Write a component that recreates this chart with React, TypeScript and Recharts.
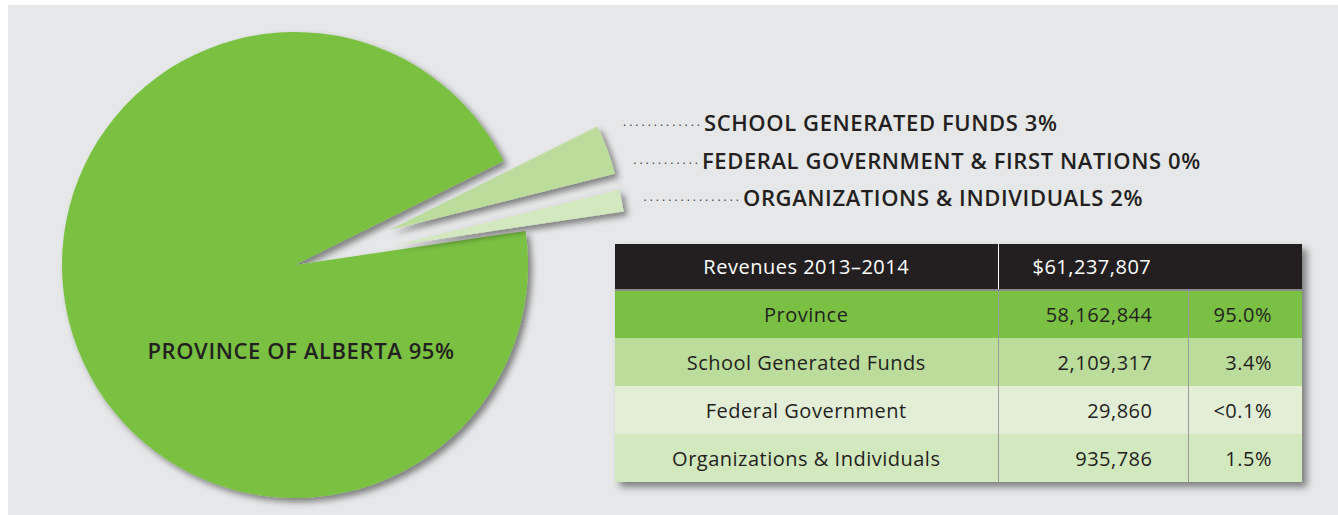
import React from 'react';
import { PieChart, Pie, Cell, Sector } from 'recharts';

const categories = ['Province', 'School Generated Funds', 'Federal Government', 'Organizations & Individuals'];
const sliceLabels = ['PROVINCE OF ALBERTA', 'SCHOOL GENERATED FUNDS', 'FEDERAL GOVERNMENT & FIRST NATIONS', 'ORGANIZATIONS & INDIVIDUALS'];
const revenues = [58162844, 2109317, 29860, 935786];
const tableTitle = 'Revenues 2013\u20132014';

const sliceColors = ['#7ac143', '#bbdc9b', '#e2efd6', '#d2e8be'];
const rowColors = ['#7ac143', '#bbdc9b', '#e2efd6', '#d2e8be'];

const total = revenues.reduce((a, b) => a + b, 0);
const data = categories.map((name, i) => ({ name, value: revenues[i] }));

const FONT = '"Open Sans", Lato, sans-serif';
const TEXT = '#231f20';
const EXPLODE = 100;

const fmt = (v: number) => v.toLocaleString('en-US');
const pctTable = (v: number) => {
  const p = (v / total) * 100;
  return p < 0.1 ? '<0.1%' : p.toFixed(1) + '%';
};
const pctRound = (v: number) => Math.round((v / total) * 100) + '%';

const renderSliceExtras = (props: any) => {
  const { index, cx, cy, innerRadius, outerRadius, startAngle, endAngle } = props;
  if (index === 0) {
    return (
      <text
        x={cx + 6}
        y={cy + 94}
        textAnchor="middle"
        fontFamily={FONT}
        fontWeight={600}
        fontSize={22}
        letterSpacing={0.6}
        fill={TEXT}
      >
        {sliceLabels[0] + ' ' + pctRound(revenues[0])}
      </text>
    );
  }
  const mid = (startAngle + endAngle) / 2;
  const rad = (-mid * Math.PI) / 180;
  return (
    <Sector
      cx={cx + EXPLODE * Math.cos(rad)}
      cy={cy + EXPLODE * Math.sin(rad)}
      innerRadius={innerRadius}
      outerRadius={outerRadius}
      startAngle={startAngle}
      endAngle={endAngle}
      fill={sliceColors[index]}
      stroke="none"
      filter="url(#pieShadow)"
    />
  );
};

const labelRows = [
  { idx: 1, dots: 13, dotsLeft: 621, textLeft: 704, top: 109 },
  { idx: 2, dots: 11, dotsLeft: 633, textLeft: 702, top: 147 },
  { idx: 3, dots: 16, dotsLeft: 642, textLeft: 743, top: 184 },
];

export default function App() {
  const cellBase: React.CSSProperties = {
    fontFamily: FONT,
    fontSize: 20,
    letterSpacing: 0.5,
    color: TEXT,
    padding: 0,
    verticalAlign: 'middle',
  };
  return (
    <div style={{ position: 'absolute', left: 0, top: 0, width: 1338, height: 515, background: '#ffffff', overflow: 'hidden' }}>
      <div style={{ position: 'absolute', left: 8, top: 5, right: 0, bottom: 0, background: '#e6e7e8' }} />
      <div style={{ position: 'absolute', left: 0, top: 0 }}>
        <PieChart width={1338} height={515}>
          <defs>
            <filter id="pieShadow" x="-20%" y="-20%" width="140%" height="140%">
              <feDropShadow dx="4" dy="4" stdDeviation="3" floodColor="#000" floodOpacity="0.45" />
            </filter>
          </defs>
          <Pie
            data={data}
            dataKey="value"
            nameKey="name"
            cx={290}
            cy={260}
            outerRadius={233}
            startAngle={8.4}
            endAngle={8.4 - 360}
            stroke="none"
            isAnimationActive={false}
            label={renderSliceExtras}
            labelLine={false}
          >
            {data.map((d, i) => (
              <Cell
                key={d.name}
                fill={i === 0 ? sliceColors[0] : 'none'}
                filter={i === 0 ? 'url(#pieShadow)' : undefined}
              />
            ))}
          </Pie>
        </PieChart>
      </div>

      {labelRows.map((r) => (
        <React.Fragment key={r.idx}>
          <div
            style={{
              position: 'absolute',
              left: r.dotsLeft,
              top: r.top,
              width: r.textLeft - r.dotsLeft - 1,
              textAlign: 'right',
              whiteSpace: 'nowrap',
              fontFamily: FONT,
              fontSize: 12,
              letterSpacing: 3,
              color: '#3a3a3a',
              lineHeight: '26px',
            }}
          >
            {'.'.repeat(r.dots)}
          </div>
          <div
            style={{
              position: 'absolute',
              left: r.textLeft,
              top: r.top,
              whiteSpace: 'nowrap',
              fontFamily: FONT,
              fontSize: 22,
              letterSpacing: 0.6,
              fontWeight: 600,
              color: TEXT,
              lineHeight: '26px',
            }}
          >
            {sliceLabels[r.idx] + ' ' + pctRound(revenues[r.idx])}
          </div>
        </React.Fragment>
      ))}

      <table
        style={{
          position: 'absolute',
          left: 615,
          top: 244,
          width: 687,
          borderCollapse: 'collapse',
          tableLayout: 'fixed',
          boxShadow: '5px 5px 7px rgba(0,0,0,0.45)',
        }}
      >
        <colgroup>
          <col style={{ width: 383 }} />
          <col style={{ width: 190 }} />
          <col style={{ width: 114 }} />
        </colgroup>
        <thead>
          <tr style={{ height: 46, background: '#231f20' }}>
            <th style={{ ...cellBase, color: '#ffffff', fontWeight: 400, textAlign: 'center', borderRight: '1px solid #ffffff', borderBottom: '2px solid #8a8a8a' }}>
              {tableTitle}
            </th>
            <th colSpan={2} style={{ ...cellBase, color: '#ffffff', fontWeight: 400, textAlign: 'left', paddingLeft: 34, borderBottom: '2px solid #8a8a8a' }}>
              {'$' + fmt(total)}
            </th>
          </tr>
        </thead>
        <tbody>
          {categories.map((c, i) => (
            <tr key={c} style={{ height: 48, background: rowColors[i] }}>
              <td style={{ ...cellBase, textAlign: 'center', borderRight: '1px solid #9a9a9a' }}>{c}</td>
              <td style={{ ...cellBase, textAlign: 'right', paddingRight: 35, borderRight: '1px solid #9a9a9a' }}>{fmt(revenues[i])}</td>
              <td style={{ ...cellBase, textAlign: 'right', paddingRight: 30 }}>{pctTable(revenues[i])}</td>
            </tr>
          ))}
        </tbody>
      </table>
    </div>
  );
}
